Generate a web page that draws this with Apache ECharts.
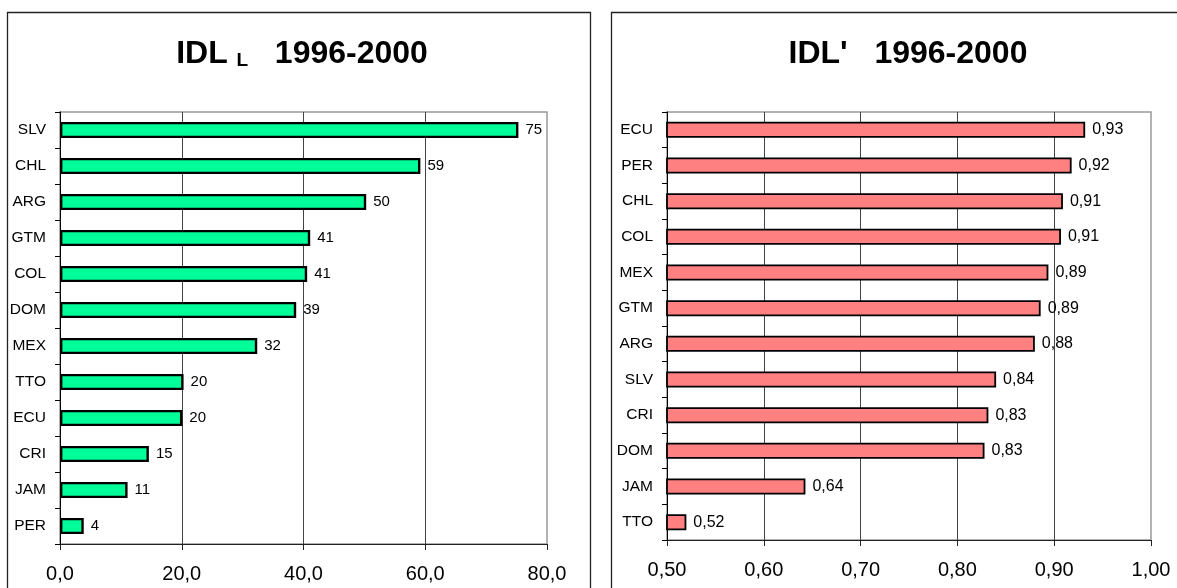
<!DOCTYPE html>
<html>
<head>
<meta charset="utf-8">
<script src="https://cdn.jsdelivr.net/npm/echarts@6/dist/echarts.min.js"></script>
<style>
html,body{margin:0;padding:0;background:#fff;}
#chart{width:1177px;height:588px;}
</style>
</head>
<body>
<div id="chart"></div>
<script>
// ---- Data ----
const categoriesL = ['SLV','CHL','ARG','GTM','COL','DOM','MEX','TTO','ECU','CRI','JAM','PER'];
const valuesL = [75.3, 59.2, 50.3, 41.1, 40.6, 38.8, 32.4, 20.3, 20.1, 14.6, 11.1, 3.9];
const categoriesR = ['ECU','PER','CHL','COL','MEX','GTM','ARG','SLV','CRI','DOM','JAM','TTO'];
const valuesR = [0.932, 0.918, 0.909, 0.907, 0.894, 0.886, 0.880, 0.840, 0.832, 0.828, 0.643, 0.520];
const axisL = {min: 0, max: 80, interval: 20};
const axisR = {min: 0.5, max: 1.0, interval: 0.1};
const titleMainL = 'IDL';
const titleSubL = 'L';
const titleYearsL = '1996-2000';
const titleMainR = "IDL'";
const titleYearsR = '1996-2000';

const FONT = '"Liberation Sans", Arial, sans-serif';
const chart = echarts.init(document.getElementById('chart'), null, {renderer: 'canvas'});

function catAxis(gridIndex, cats) {
  return {
    type: 'category', gridIndex: gridIndex, data: cats, inverse: true,
    axisLine: {show: true, lineStyle: {color: '#000', width: 1}},
    axisTick: {show: true, length: 5, lineStyle: {color: '#000'}},
    axisLabel: {fontFamily: FONT, fontSize: 15.5, color: '#000', margin: 14},
    splitLine: {show: false}
  };
}
function valAxis(gridIndex, cfg, digits) {
  return {
    type: 'value', gridIndex: gridIndex, min: cfg.min, max: cfg.max, interval: cfg.interval,
    axisLine: {show: true, lineStyle: {color: '#222', width: 1.2}},
    axisTick: {show: true, length: 6, lineStyle: {color: '#222'}},
    axisLabel: {fontFamily: FONT, fontSize: 20, color: '#000', margin: 20,
      formatter: v => v.toFixed(digits).replace('.', ',')},
    splitLine: {show: true, showMinLine: false, showMaxLine: false, lineStyle: {color: '#444', width: 1}}
  };
}

const option = {
  backgroundColor: '#fff',
  animation: false,
  graphic: [
    {type: 'rect', shape: {x: 7.5, y: 12.5, width: 583, height: 620}, style: {fill: 'none', stroke: '#222', lineWidth: 1.3}, z: 0},
    {type: 'rect', shape: {x: 611.5, y: 12.5, width: 620, height: 620}, style: {fill: 'none', stroke: '#222', lineWidth: 1.3}, z: 0},
    {type: 'text', x: 302, y: 54, style: {
      text: '{a|' + titleMainL + ' }{b|' + titleSubL + '}{a|   ' + titleYearsL + '}',
      align: 'center', verticalAlign: 'middle',
      rich: {
        a: {fontFamily: FONT, fontSize: 32, fontWeight: 'bold', fill: '#000', color: '#000'},
        b: {fontFamily: FONT, fontSize: 19, fontWeight: 'bold', fill: '#000', color: '#000', verticalAlign: 'bottom', padding: [10, 0, 0, 0]}
      }
    }},
    {type: 'text', x: 908, y: 54, style: {
      text: titleMainR + '   ' + titleYearsR,
      align: 'center', verticalAlign: 'middle',
      font: 'bold 32px ' + FONT, fill: '#000'
    }}
  ],
  grid: [
    {left: 60, top: 112, width: 487, height: 432, show: true, borderColor: '#999', borderWidth: 1.5, backgroundColor: 'transparent'},
    {left: 667, top: 112, width: 484, height: 428, show: true, borderColor: '#999', borderWidth: 1.5, backgroundColor: 'transparent'}
  ],
  xAxis: [valAxis(0, axisL, 1), valAxis(1, axisR, 2)],
  yAxis: [catAxis(0, categoriesL), catAxis(1, categoriesR)],
  series: [
    {
      type: 'bar', xAxisIndex: 0, yAxisIndex: 0, data: valuesL, barWidth: '45%',
      itemStyle: {color: '#00FF99', borderColor: '#000', borderWidth: 2.4},
      label: {show: true, position: 'right', distance: 7, fontFamily: FONT, fontSize: 15, color: '#000',
        formatter: p => String(Math.round(p.value))}
    },
    {
      type: 'bar', xAxisIndex: 1, yAxisIndex: 1, data: valuesR, barWidth: '45%', clip: true,
      itemStyle: {color: '#FF8080', borderColor: '#000', borderWidth: 1.8},
      label: {show: true, position: 'right', distance: 7, fontFamily: FONT, fontSize: 16, color: '#000',
        formatter: p => p.value.toFixed(2).replace('.', ',')}
    }
  ]
};
chart.setOption(option);
</script>
</body>
</html>
